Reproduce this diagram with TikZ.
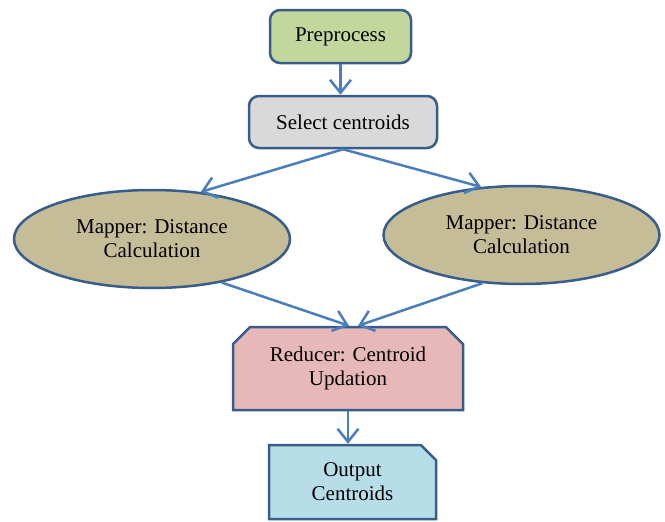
\documentclass[tikz,border=0pt]{standalone}
\usepackage{fontspec}
\setmainfont{Liberation Serif}
\usetikzlibrary{positioning,calc,arrows.meta,shapes.geometric,shapes.misc}
\definecolor{edgeblue}{HTML}{385D8A}
\definecolor{flowblue}{HTML}{4A7EBB}
\definecolor{fillgreen}{HTML}{C3D69B}
\definecolor{fillgray}{HTML}{D9D9D9}
\definecolor{filltan}{HTML}{C4BD97}
\definecolor{fillpink}{HTML}{E6B9B8}
\definecolor{fillcyan}{HTML}{B7DEE8}
\tikzset{font=\fontsize{21}{24}\selectfont}
\tikzset{
	stagebox/.style={draw=edgeblue, line width=2.5pt, align=center, inner sep=0pt},
	roundbox/.style={stagebox, rectangle, rounded corners=10pt},
	mapnode/.style={stagebox, ellipse, minimum width=276pt, minimum height=98pt, fill=filltan},
	flow/.style={draw=flowblue, line width=2.5pt, -{Straight Barb[length=13pt,width=21pt]}}
}

\begin{document}
\begin{tikzpicture}[x=1pt, y=-1pt]
	\useasboundingbox (0, 0) rectangle (665, 522);
	\begin{scope}
		\node[roundbox, fill=fillgreen, minimum width=141pt, minimum height=53pt] (pre) at (340.5, 36.5) {Preprocess};
		\node[roundbox, fill=fillgray, minimum width=188pt, minimum height=52pt] (sel) at (343, 122) {Select centroids};
		\node[mapnode] (mapL) at (152, 239) {Mapper: Distance\\Calculation};
		\node[mapnode] (mapR) at (521.5, 235) {Mapper: Distance\\Calculation};
		\node[stagebox, chamfered rectangle, chamfered rectangle corners={north west, north east}, chamfered rectangle xsep=14pt, fill=fillpink, minimum width=230pt, minimum height=83pt] (red) at (348, 368.5) {Reducer: Centroid\\Updation};
		\node[stagebox, chamfered rectangle, chamfered rectangle corners={north east}, chamfered rectangle xsep=12pt, fill=fillcyan, minimum width=167pt, minimum height=74pt] (out) at (352.5, 482) {Output\\Centroids};

		\draw[flow] (pre.south) -- (pre.south |- sel.north);
		\draw[flow] (sel.south) -- (mapL.44);
		\draw[flow] (sel.south) -- (mapR.130);
		\draw[flow] (mapL.-32) -- ([xshift=1pt]red.north);
		\draw[flow] (mapR.231) -- ([xshift=10pt]red.north);
		\draw[flow] (red.south) -- (red.south |- out.north);
	\end{scope}
\end{tikzpicture}
\end{document}
